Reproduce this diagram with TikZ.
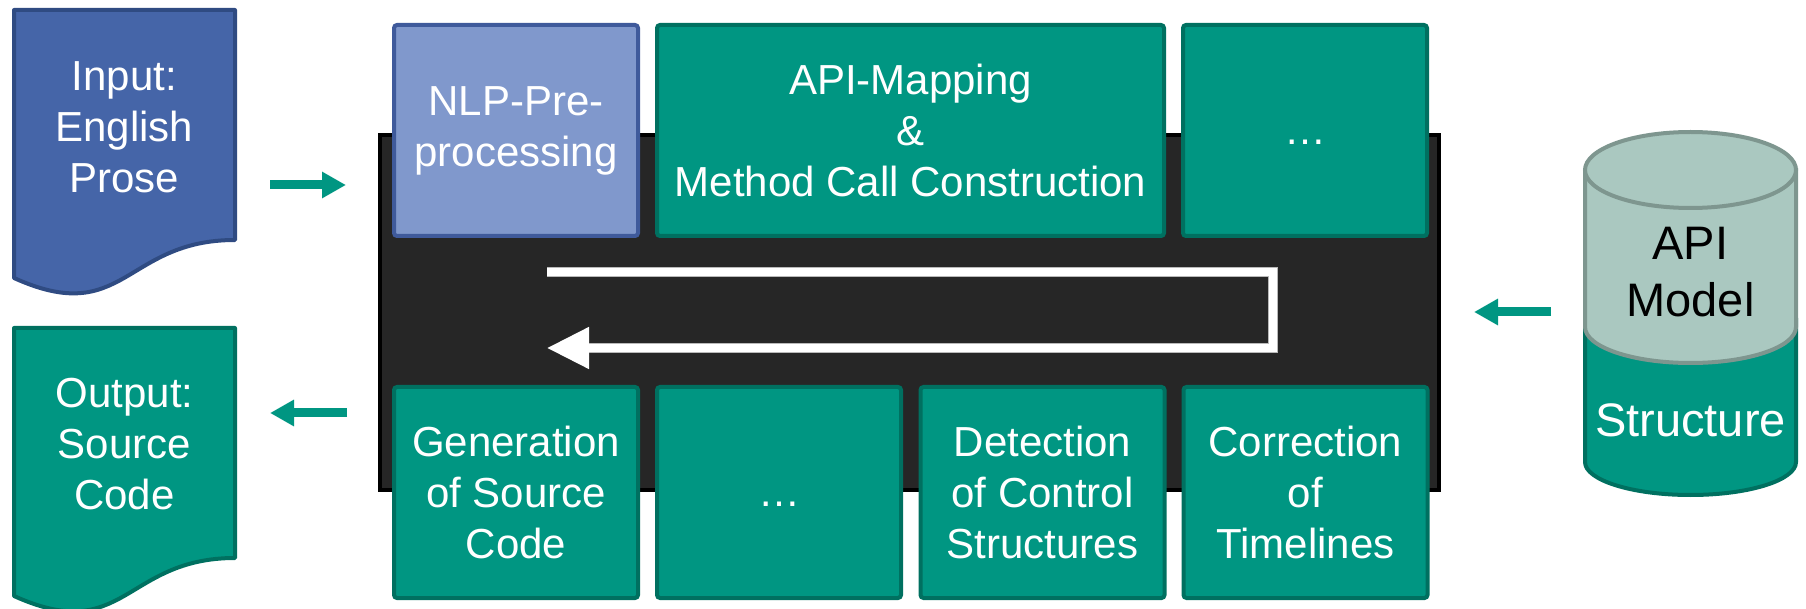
\documentclass[tikz,border=0pt]{standalone}
\usepackage{fontspec}
\setmainfont{Liberation Sans}
\usetikzlibrary{arrows.meta}

\definecolor{tealfill}{RGB}{0,150,130}
\definecolor{tealline}{RGB}{0,112,96}
\definecolor{docblue}{RGB}{69,101,168}
\definecolor{docblueline}{RGB}{47,75,130}
\definecolor{nlpfill}{RGB}{128,152,204}
\definecolor{nlpline}{RGB}{63,90,155}
\definecolor{panelfill}{RGB}{38,38,38}
\definecolor{dbfill}{RGB}{170,200,192}
\definecolor{dbline}{RGB}{126,150,143}

\tikzset{
  boxtext/.style={text=white, align=center, font=\fontsize{21}{25.5}\selectfont},
  stagebox/.style={boxtext, draw=tealline, fill=tealfill, line width=2pt,
    rounded corners=1.5pt, inner sep=0pt, minimum width=122pt, minimum height=105.5pt},
  nlpbox/.style={stagebox, draw=nlpline, fill=nlpfill},
  flowarrow/.style={draw=tealfill, line width=4.5pt,
    -{Triangle[length=12pt, width=12.5pt, fill=tealfill]}},
  docshape/.style={line width=2pt, line join=round},
}

\begin{document}
\begin{tikzpicture}[x=0.5pt, y=-0.5pt]
\useasboundingbox (0,0) rectangle (1806,609);

% ---- input document ----
\path[docshape, draw=docblueline, fill=docblue]
  (14,10) -- (235,10) -- (235,240)
  .. controls (124.5,240) and (124.5,328) .. (14,278) -- cycle;
\node[boxtext] (input) at (124.5,127) {Input:\\English\\Prose};

% ---- output document ----
\path[docshape, draw=tealline, fill=tealfill]
  (14,328) -- (235,328) -- (235,558)
  .. controls (124.5,558) and (124.5,646) .. (14,596) -- cycle;
\node[boxtext] (output) at (124.5,444) {Output:\\Source\\Code};

% ---- processing pipeline panel ----
\node[draw=black, fill=panelfill, line width=2pt, inner sep=0pt,
  minimum width=529.5pt, minimum height=177.5pt] (panel) at (909.5,312.5) {};

% upper row of stages
\node[nlpbox] (nlp) at (516,130.5) {NLP-Pre-\\processing};
\node[stagebox, minimum width=253.5pt] (mapping) at (910.5,130.5)
  {API-Mapping\\\&\\Method Call Construction};
\node[stagebox] (moretop) at (1305,130.5) {\vphantom{A}…};

% lower row of stages
\node[stagebox] (generation) at (516,492.5) {Generation\\of Source\\Code};
\node[stagebox] (morebottom) at (779,492.5) {\vphantom{A}…};
\node[stagebox] (detection) at (1042.5,492.5) {Detection\\of Control\\Structures};
\node[stagebox] (correction) at (1305.5,492.5) {Correction\\of\\Timelines};

% loop through the stages
\coordinate (loopstart) at (547,272);
\coordinate (loopright) at (1273,272);
\coordinate (loopdown) at (1273,348);
\coordinate (loopend) at (547,348);
\coordinate (loophead) at (589,348);
\draw[gray!55, line width=5pt, line join=miter]
  (loopstart) -- (loopright) -- (loopdown) -- (loophead);
\draw[white, line width=4pt, line join=miter,
  -{Triangle[length=21pt, width=20pt, fill=white]}]
  (loopstart) -- (loopright) -- (loopdown) -- (loopend);

% ---- API model database ----
% lower (structure) part
\path[draw=tealline, fill=tealfill, line width=2pt]
  (1585,320) -- (1585,462) arc[start angle=180, end angle=0, x radius=105.5, y radius=33]
  -- (1796,320) -- cycle;
% upper (model) part
\path[draw=dbline, fill=dbfill, line width=2pt]
  (1585,170) -- (1585,327) arc[start angle=180, end angle=0, x radius=105.5, y radius=36]
  -- (1796,170) -- cycle;
\draw[dbline, fill=dbfill, line width=2pt] (1690.5,170) ellipse[x radius=105.5, y radius=38];
\node[align=center, text=black, font=\fontsize{23.5}{28.5}\selectfont] (apimodel)
  at (1690.5,272) {API\\Model};
\node[text=white, font=\fontsize{23.5}{28.5}\selectfont] (structure)
  at (1690.5,420) {Structure};

% ---- flow arrows ----
\coordinate (inA) at (270,185);
\coordinate (inB) at (346,185);
\coordinate (outA) at (347,413);
\coordinate (outB) at (270,413);
\coordinate (dbA) at (1551,312);
\coordinate (dbB) at (1474,312);
\draw[flowarrow] (inA) -- (inB);
\draw[flowarrow] (outA) -- (outB);
\draw[flowarrow] (dbA) -- (dbB);
\end{tikzpicture}
\end{document}
